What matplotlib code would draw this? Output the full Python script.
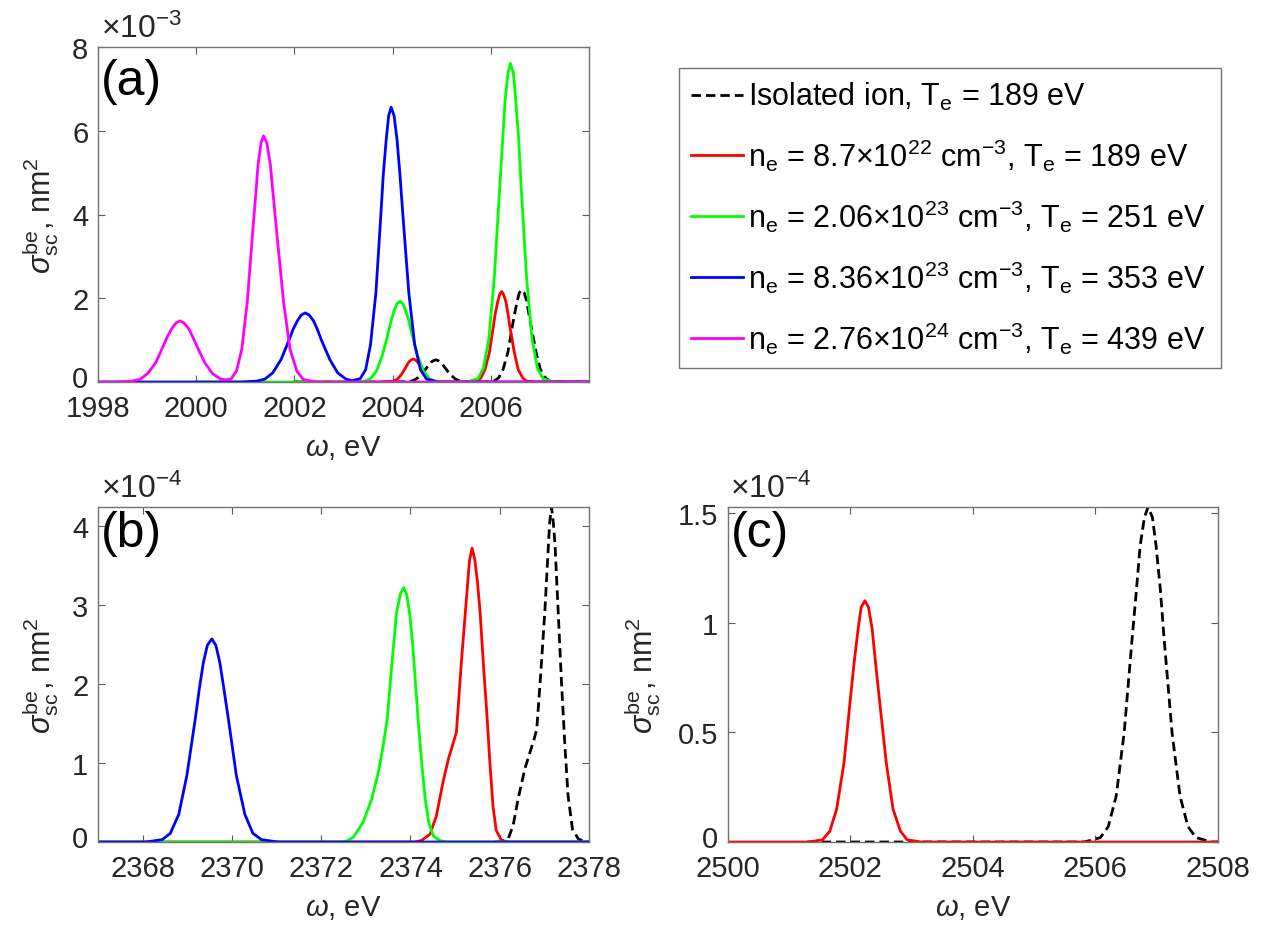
from matplotlib import pyplot as plt
from matplotlib import transforms

plt.rcParams['font.family'] = ['Liberation Sans', 'DejaVu Sans']
plt.rcParams['mathtext.fontset'] = 'custom'
plt.rcParams['mathtext.rm'] = 'Liberation Sans'
plt.rcParams['mathtext.it'] = 'Liberation Sans:italic'
plt.rcParams['mathtext.bf'] = 'Liberation Sans:bold'
plt.rcParams['mathtext.sf'] = 'Liberation Sans'

TXT = '#262626'
FS = 21

# ---- panel (a): omega [eV], sigma [1e-3 nm^2]
w_a_black = [2002.0, 2004.08, 2004.28, 2004.38, 2004.48, 2004.58, 2004.68, 2004.73, 2004.78, 2004.83,
             2004.88, 2004.93, 2004.98, 2005.03, 2005.08, 2005.18, 2005.28, 2005.38, 2005.48, 2005.68,
             2005.87, 2006.06, 2006.16, 2006.25, 2006.35, 2006.44, 2006.49, 2006.54, 2006.58, 2006.63,
             2006.68, 2006.73, 2006.77, 2006.82, 2006.92, 2007.01, 2007.11, 2007.20, 2007.39, 2008.0]
s_a_black = [0, 0, .01, .02, .07, .17, .32, .40, .47, .51,
             .53, .51, .47, .40, .32, .17, .07, .02, .01, 0,
             0, .02, .10, .30, .72, 1.34, 1.66, 1.94, 2.13, 2.20,
             2.13, 1.94, 1.66, 1.34, .72, .30, .10, .02, 0, 0]

w_a_red = [2002.0, 2003.78, 2003.94, 2004.02, 2004.10, 2004.18, 2004.26, 2004.30, 2004.34, 2004.38,
           2004.42, 2004.46, 2004.50, 2004.54, 2004.58, 2004.66, 2004.74, 2004.82, 2004.90, 2005.06,
           2005.54, 2005.71, 2005.80, 2005.88, 2005.97, 2006.05, 2006.09, 2006.14, 2006.18, 2006.22,
           2006.26, 2006.31, 2006.35, 2006.39, 2006.48, 2006.56, 2006.65, 2006.73, 2006.90, 2008.0]
s_a_red = [0, 0, .01, .02, .07, .18, .33, .42, .49, .53,
           .55, .53, .49, .42, .33, .18, .07, .02, .01, 0,
           0, .02, .10, .29, .70, 1.31, 1.63, 1.91, 2.09, 2.16,
           2.09, 1.91, 1.63, 1.31, .70, .29, .10, .02, 0, 0]

w_a_green = [2000.0, 2003.19, 2003.43, 2003.55, 2003.67, 2003.79, 2003.91, 2003.97, 2004.03, 2004.09,
             2004.15, 2004.21, 2004.27, 2004.33, 2004.39, 2004.51, 2004.63, 2004.75, 2004.87, 2005.11,
             2005.52, 2005.74, 2005.85, 2005.96, 2006.07, 2006.18, 2006.24, 2006.29, 2006.35, 2006.40,
             2006.46, 2006.51, 2006.57, 2006.62, 2006.73, 2006.84, 2006.95, 2007.06, 2007.28, 2008.0]
s_a_green = [0, 0, .02, .08, .26, .63, 1.17, 1.46, 1.70, 1.87,
             1.93, 1.87, 1.70, 1.46, 1.17, .63, .26, .08, .02, 0,
             0, .08, .33, 1.03, 2.47, 4.62, 5.75, 6.71, 7.37, 7.61,
             7.37, 6.71, 5.75, 4.62, 2.47, 1.03, .33, .08, 0, 0]

w_a_blue = [1998.0, 2000.9, 2001.23, 2001.40, 2001.56, 2001.73, 2001.89, 2001.97, 2002.06, 2002.14,
            2002.22, 2002.30, 2002.39, 2002.47, 2002.55, 2002.72, 2002.88, 2003.05, 2003.17, 2003.34,
            2003.45, 2003.55, 2003.66, 2003.76, 2003.81, 2003.87, 2003.92, 2003.97, 2004.03, 2004.09,
            2004.15, 2004.21, 2004.33, 2004.45, 2004.57, 2004.69, 2004.93, 2008.0]
s_a_blue = [0, 0, .02, .07, .22, .54, 1.00, 1.25, 1.46, 1.60,
            1.65, 1.60, 1.46, 1.25, 1.00, .54, .22, .07, .03, .08,
            .29, .89, 2.13, 3.98, 4.95, 5.79, 6.36, 6.56, 6.36, 5.79,
            4.95, 3.98, 2.13, .89, .29, .07, 0, 0]

w_a_magenta = [1998.0, 1998.35, 1998.68, 1998.85, 1999.01, 1999.18, 1999.34, 1999.42, 1999.51, 1999.59,
               1999.67, 1999.75, 1999.84, 1999.92, 2000.00, 2000.17, 2000.33, 2000.50, 2000.60, 2000.71,
               2000.82, 2000.93, 2001.04, 2001.15, 2001.21, 2001.26, 2001.32, 2001.37, 2001.44, 2001.51,
               2001.57, 2001.64, 2001.78, 2001.91, 2002.05, 2002.18, 2002.45, 2008.0]
s_a_magenta = [0, 0, .02, .06, .20, .47, .89, 1.10, 1.29, 1.41,
               1.46, 1.41, 1.29, 1.10, .89, .47, .20, .07, .05, .07,
               .26, .79, 1.91, 3.57, 4.44, 5.19, 5.70, 5.88, 5.70, 5.19,
               4.44, 3.57, 1.91, .79, .26, .06, 0, 0]

# ---- panel (b): sigma [1e-4 nm^2]
w_b_black = [2375.9, 2376.0, 2376.19, 2376.30, 2376.41, 2376.56, 2376.68, 2376.76, 2376.83, 2376.91,
             2377.01, 2377.09, 2377.12, 2377.16, 2377.20, 2377.24, 2377.31, 2377.38, 2377.46, 2377.53,
             2377.63, 2377.76, 2377.88, 2378.0]
s_b_black = [0, 0, .04, .21, .54, .92, 1.14, 1.28, 1.43, 2.06,
             2.91, 3.75, 4.05, 4.24, 4.05, 3.75, 2.91, 2.06, 1.22, .59,
             .16, .04, .01, 0]

w_b_red = [2367.0, 2374.1, 2374.25, 2374.44, 2374.58, 2374.73, 2374.85, 2374.92, 2375.03, 2375.14,
           2375.26, 2375.32, 2375.38, 2375.44, 2375.50, 2375.56, 2375.64, 2375.71, 2375.78, 2375.85,
           2375.92, 2376.04, 2376.2, 2378.0]
s_b_red = [0, 0, .02, .10, .33, .76, 1.05, 1.18, 1.39, 2.27,
           3.12, 3.55, 3.72, 3.58, 3.30, 2.91, 2.20, 1.64, 1.00, .45,
           .15, .02, 0, 0]

w_b_green = [2367.0, 2372.4, 2372.57, 2372.72, 2372.94, 2373.13, 2373.28, 2373.39, 2373.48, 2373.58,
             2373.69, 2373.78, 2373.85, 2373.92, 2373.98, 2374.05, 2374.12, 2374.19, 2374.26, 2374.33,
             2374.41, 2374.51, 2374.65, 2374.8, 2378.0]
s_b_green = [0, 0, .01, .06, .25, .54, .88, 1.22, 1.56, 2.23,
             2.91, 3.15, 3.22, 3.12, 2.90, 2.50, 1.95, 1.42, .95, .55,
             .25, .08, .02, 0, 0]

w_b_blue = [2367.0, 2368.07, 2368.44, 2368.62, 2368.81, 2368.99, 2369.18, 2369.27, 2369.36, 2369.45,
            2369.55, 2369.64, 2369.73, 2369.82, 2369.92, 2370.10, 2370.29, 2370.47, 2370.66, 2371.03,
            2378.0]
s_b_blue = [0, 0, .03, .11, .35, .84, 1.56, 1.94, 2.27, 2.49,
            2.57, 2.49, 2.27, 1.94, 1.56, .84, .35, .11, .03, 0,
            0]

# ---- panel (c): sigma [1e-4 nm^2]
w_c_black = [2501.3, 2505.82, 2506.08, 2506.21, 2506.34, 2506.47, 2506.60, 2506.67, 2506.73, 2506.80,
             2506.86, 2506.93, 2506.99, 2507.06, 2507.12, 2507.25, 2507.38, 2507.51, 2507.64, 2507.90,
             2508.0]
s_c_black = [0, 0, .02, .07, .21, .50, .93, 1.15, 1.35, 1.48,
             1.527, 1.48, 1.35, 1.15, .93, .50, .21, .07, .02, 0,
             0]

w_c_red = [2500.0, 2501.32, 2501.55, 2501.67, 2501.78, 2501.90, 2502.01, 2502.07, 2502.13, 2502.18,
           2502.24, 2502.30, 2502.36, 2502.41, 2502.47, 2502.59, 2502.70, 2502.82, 2502.93, 2503.16,
           2508.0]
s_c_red = [0, 0, .01, .05, .15, .36, .67, .83, .97, 1.07,
           1.10, 1.07, .97, .83, .67, .36, .15, .05, .01, 0,
           0]

legend_labels = [
    r'Isolated ion, T$_{\rm e}$ = 189 eV',
    r'n$_{\rm e}$ = 8.7$\times$10$^{22}$ cm$^{-3}$, T$_{\rm e}$ = 189 eV',
    r'n$_{\rm e}$ = 2.06$\times$10$^{23}$ cm$^{-3}$, T$_{\rm e}$ = 251 eV',
    r'n$_{\rm e}$ = 8.36$\times$10$^{23}$ cm$^{-3}$, T$_{\rm e}$ = 353 eV',
    r'n$_{\rm e}$ = 2.76$\times$10$^{24}$ cm$^{-3}$, T$_{\rm e}$ = 439 eV',
]

LW = 2.0
black_kw = dict(color='k', lw=LW, ls=(0, (3.4, 1.8)))
RED, GREEN, BLUE, MAGENTA = '#ff0000', '#00ff00', '#0000ff', '#ff00ff'

W, H = 1263, 929
fig = plt.figure(figsize=(W / 100, H / 100), dpi=100)
lift = transforms.ScaledTranslation(0, 4.5 / 72, fig.dpi_scale_trans)


def place(l, t, r, b):
    return fig.add_axes([l / W, 1 - b / H, (r - l) / W, (b - t) / H])


def style(ax, xticks, yticks, ylabels, expo, tag, tag_y, ylab_x):
    ax.set_xticks(xticks)
    ax.set_yticks(yticks)
    ax.set_yticklabels(ylabels)
    ax.tick_params(direction='in', top=True, right=True, length=5, width=0.8,
                   color='0.35', labelsize=FS, labelcolor=TXT)
    ax.tick_params(axis='x', pad=8.5)
    ax.tick_params(axis='y', pad=7)
    # nudge the y "0" up a bit so it doesn't sit on the first x label
    lab0 = ax.yaxis.get_major_ticks()[0].label1
    lab0.set_transform(lab0.get_transform() + lift)
    for s in ax.spines.values():
        s.set_color('0.45')
        s.set_linewidth(1.0)
    ax.set_xlabel(r'$\omega$, eV', fontsize=FS, color=TXT)
    ax.xaxis.set_label_coords(0.5, -0.152)
    ax.set_ylabel(r'$\sigma^{\rm be}_{\rm sc}$, nm$^2$', fontsize=22, color=TXT)
    ax.yaxis.set_label_coords(ylab_x, 0.5)
    ax.text(0.006, 1.008, r'$\times$10$^{' + expo + '}$', transform=ax.transAxes,
            fontsize=23, color=TXT, ha='left', va='bottom')
    ax.text(0.006, tag_y, tag, transform=ax.transAxes, fontsize=36,
            ha='left', va='top', color='k')


# (a)
ax = place(98, 48, 589, 383)
la = []
la += ax.plot(w_a_black, s_a_black, **black_kw)
la += ax.plot(w_a_red, s_a_red, color=RED, lw=LW)
la += ax.plot(w_a_green, s_a_green, color=GREEN, lw=LW)
la += ax.plot(w_a_blue, s_a_blue, color=BLUE, lw=LW)
la += ax.plot(w_a_magenta, s_a_magenta, color=MAGENTA, lw=LW)
ax.set_xlim(1998, 2008)
ax.set_ylim(0, 8)
style(ax, [1998, 2000, 2002, 2004, 2006], [0, 2, 4, 6, 8], ['0', '2', '4', '6', '8'],
      '-3', '(a)', 0.968, -0.075)

# (b)
ax = place(98, 508, 589, 843)
ax.plot(w_b_black, s_b_black, **black_kw)
ax.plot(w_b_red, s_b_red, color=RED, lw=LW)
ax.plot(w_b_green, s_b_green, color=GREEN, lw=LW)
ax.plot(w_b_blue, s_b_blue, color=BLUE, lw=LW)
ax.set_xlim(2367, 2378)
ax.set_ylim(0, max(s_b_black))
style(ax, [2368, 2370, 2372, 2374, 2376, 2378], [0, 1, 2, 3, 4], ['0', '1', '2', '3', '4'],
      '-4', '(b)', 0.99, -0.075)

# (c)
ax = place(727.5, 508, 1218, 843)
ax.plot(w_c_black, s_c_black, **black_kw)
ax.plot(w_c_red, s_c_red, color=RED, lw=LW)
ax.set_xlim(2500, 2508)
ax.set_ylim(0, max(s_c_black))
style(ax, [2500, 2502, 2504, 2506, 2508], [0, 0.5, 1, 1.5], ['0', '0.5', '1', '1.5'],
      '-4', '(c)', 0.99, -0.132)

leg = fig.legend(la, legend_labels, loc='upper left',
                 bbox_to_anchor=(679 / W, 1 - 69 / H, (1221 - 679) / W, 0.0),
                 mode='expand', borderaxespad=0, fontsize=22, handlelength=1.7,
                 handletextpad=0.15, labelspacing=0.8, borderpad=0.4,
                 fancybox=False, framealpha=1, edgecolor='0.45')
leg.get_frame().set_linewidth(1.0)
for t in leg.get_texts():
    t.set_color('k')

fig.savefig('out.png', dpi=100)
